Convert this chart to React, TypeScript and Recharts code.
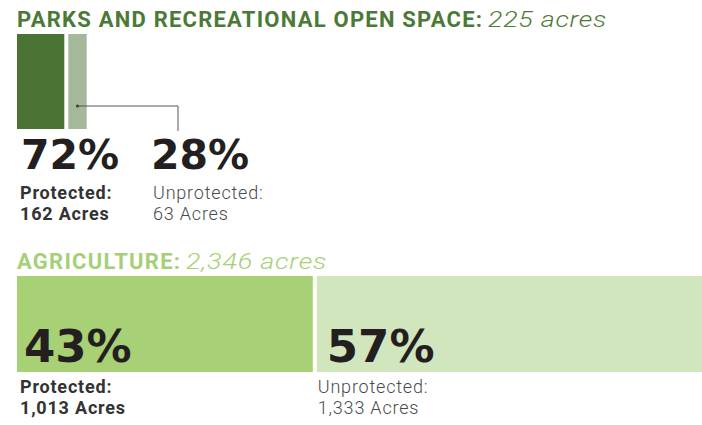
import { BarChart, Bar, XAxis, YAxis } from 'recharts';

const sections = ['PARKS AND RECREATIONAL OPEN SPACE:', 'AGRICULTURE:'];
const totalAcres = [225, 2346];
const protectedAcres = [162, 1013];
const unprotectedAcres = [63, 1333];

// one common acre scale for both bars
const SCALE_MAX = Math.max(...totalAcres);

const GAP = 4;
const CALLOUT_X = 178;
const FONT = 'Roboto, "Noto Sans", sans-serif';
const BIG_FONT = '"DejaVu Sans", Roboto, sans-serif';
const TITLE_W = [465, 163];
const TOTAL_W = [119, 141];

const colors = [
  { title: '#4b7a36', prot: '#4a7233', unprot: '#a4b999' },
  { title: '#a6cf76', prot: '#a8d074', unprot: '#d2e6bd' },
];

const pct = (v: number, t: number) => `${Math.round((v / t) * 100)}%`;
const acres = (v: number) => `${v.toLocaleString('en-US')} Acres`;

function Title({ i, x, y }: { i: number; x: number; y: number }) {
  return (
    <g>
      <text x={x} y={y} fontFamily={FONT} fontWeight={700} fontSize={22} fill={colors[i].title} textLength={TITLE_W[i]}>
        {sections[i]}
      </text>
      <text
        x={x + TITLE_W[i] + 6}
        y={y}
        fontFamily={FONT}
        fontWeight={300}
        fontStyle="italic"
        fontSize={22}
        letterSpacing={0.6}
        fill={colors[i].title}
        textLength={TOTAL_W[i]}
        lengthAdjust="spacingAndGlyphs"
      >
        {`${totalAcres[i].toLocaleString('en-US')} acres`}
      </text>
    </g>
  );
}

function BigPct({ x, y, size, children }: { x: number; y: number; size: number; children: string }) {
  return (
    <text x={x} y={y} fontFamily={BIG_FONT} fontWeight={700} fontSize={size} fill="#231f20">
      {children}
    </text>
  );
}

function Caption({ x, y, bold, lines }: { x: number; y: number; bold: boolean; lines: string[] }) {
  return (
    <g fontFamily={FONT} fontSize={18} letterSpacing={0.8} fontWeight={bold ? 700 : 300} fill={bold ? '#333' : '#4a4a4a'}>
      <text x={x} y={y}>{lines[0]}</text>
      <text x={x} y={y + 21}>{lines[1]}</text>
    </g>
  );
}

const protectedShape = (i: number) => (props: any) => {
  const { x, y, width, height, fill } = props;
  const bottom = y + height;
  const text = pct(protectedAcres[i], totalAcres[i]);
  return (
    <g>
      <Title i={i} x={x} y={y - 7} />
      <rect x={x} y={y} width={width} height={height} fill={fill} />
      {i === 0 ? (
        <BigPct x={x + 4} y={bottom + 40} size={41}>{text}</BigPct>
      ) : (
        <BigPct x={x + 7} y={bottom - 10} size={45}>{text}</BigPct>
      )}
      <Caption
        x={x + 3}
        y={i === 0 ? bottom + 70 : bottom + 21}
        bold
        lines={['Protected:', acres(protectedAcres[i])]}
      />
    </g>
  );
};

const unprotectedShape = (i: number) => (props: any) => {
  const { x, y, width, height, fill } = props;
  const bx = x + GAP;
  const bottom = y + height;
  const text = pct(unprotectedAcres[i], totalAcres[i]);
  if (i === 0) {
    const cx = bx + width / 2;
    const cy = y + 72;
    return (
      <g>
        <rect x={bx} y={y} width={width} height={height} fill={fill} />
        <circle cx={cx} cy={cy} r={1.6} fill="#3d3d3d" />
        <polyline
          points={`${cx},${cy} ${CALLOUT_X},${cy} ${CALLOUT_X},${bottom + 2}`}
          fill="none"
          stroke="#555"
          strokeWidth={1}
        />
        <BigPct x={CALLOUT_X - 27} y={bottom + 40} size={41}>{text}</BigPct>
        <Caption x={CALLOUT_X - 25} y={bottom + 70} bold={false} lines={['Unprotected:', acres(unprotectedAcres[i])]} />
      </g>
    );
  }
  return (
    <g>
      <rect x={bx} y={y} width={width} height={height} fill={fill} />
      <BigPct x={bx + 10} y={bottom - 10} size={45}>{text}</BigPct>
      <Caption x={bx + 1} y={bottom + 21} bold={false} lines={['Unprotected:', acres(unprotectedAcres[i])]} />
    </g>
  );
};

function Section({ i, top, height, margin }: { i: number; top: number; height: number; margin: any }) {
  const data = [{ name: sections[i], protected: protectedAcres[i], unprotected: unprotectedAcres[i] }];
  return (
    <div style={{ position: 'absolute', left: 0, top }}>
      <BarChart width={702} height={height} data={data} layout="vertical" margin={margin} barCategoryGap={0}>
        <XAxis type="number" domain={[0, SCALE_MAX]} hide />
        <YAxis type="category" dataKey="name" hide />
        <Bar dataKey="protected" stackId="a" fill={colors[i].prot} shape={protectedShape(i)} isAnimationActive={false} />
        <Bar dataKey="unprotected" stackId="a" fill={colors[i].unprot} shape={unprotectedShape(i)} isAnimationActive={false} />
      </BarChart>
    </div>
  );
}

export default function App() {
  return (
    <div style={{ position: 'absolute', left: 0, top: 0, width: 702, height: 425, overflow: 'hidden', background: '#fff' }}>
      <Section i={0} top={0} height={235} margin={{ top: 34, right: 0, bottom: 106, left: 17 }} />
      <Section i={1} top={235} height={190} margin={{ top: 41, right: 0, bottom: 53, left: 17 }} />
    </div>
  );
}
